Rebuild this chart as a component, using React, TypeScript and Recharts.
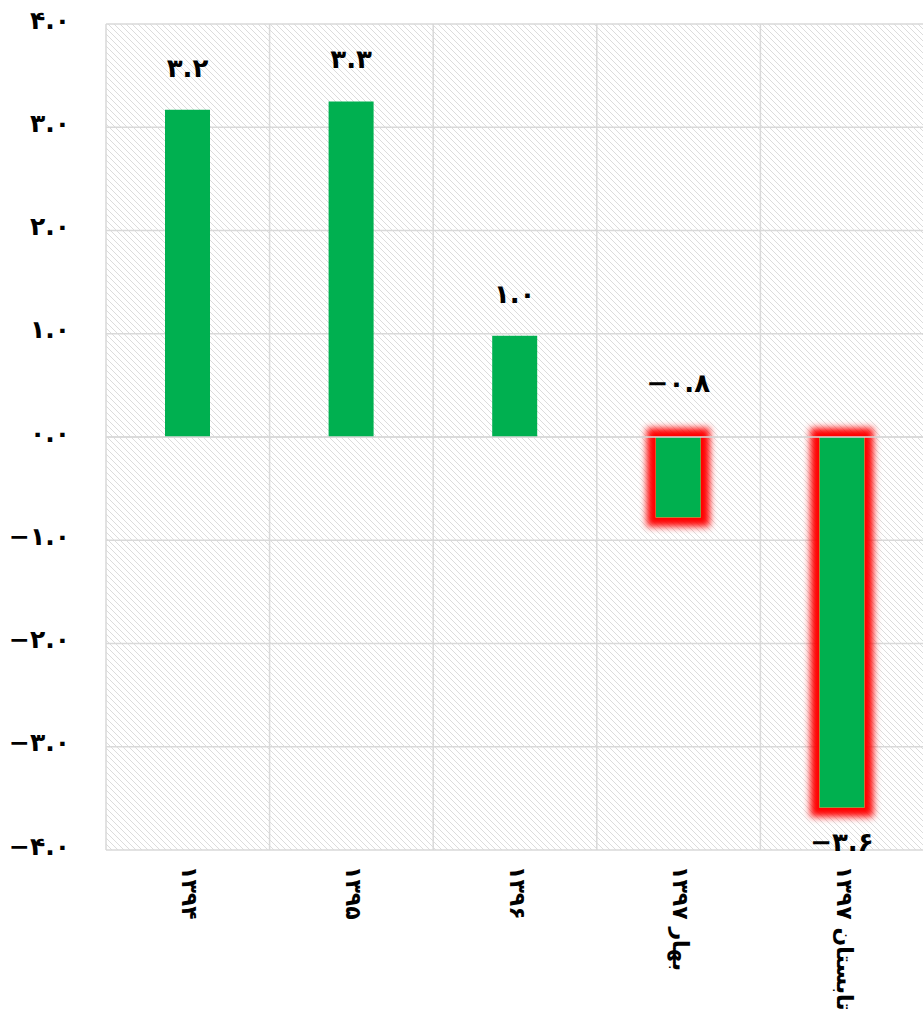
import React from 'react';
import {
  BarChart,
  Bar,
  XAxis,
  YAxis,
  CartesianGrid,
  LabelList,
  ReferenceLine,
  Cell,
} from 'recharts';

const categories = ['۱۳۹۴', '۱۳۹۵', '۱۳۹۶', 'بهار ۱۳۹۷', 'تابستان ۱۳۹۷'];
const values = [3.17, 3.25, 0.98, -0.78, -3.59];
const labels = ['۳.۲', '۳.۳', '۱.۰', '−۰.۸', '−۳.۶'];
const highlighted = [false, false, false, true, true];
const yTicks = [4, 3, 2, 1, 0, -1, -2, -3, -4];

const data = categories.map((name, i) => ({
  name,
  value: values[i],
  label: labels[i],
  glow: highlighted[i],
}));

const FONT = '"DejaVu Sans", sans-serif';
const GREEN = '#00b050';
const GRID = '#d9d9d9';

const faDigits = '۰۱۲۳۴۵۶۷۸۹';
function toFa(n: number) {
  return n
    .toFixed(1)
    .replace(/\d/g, (d) => faDigits[Number(d)])
    .replace('-', '−');
}

function YTick({ y, payload }: any) {
  return (
    <text
      x={70}
      y={y - 4}
      textAnchor="end"
      dominantBaseline="central"
      fontFamily={FONT}
      fontWeight="bold"
      fontSize={25}
      fill="#000"
    >
      {toFa(payload.value)}
    </text>
  );
}

function XTick({ x, y, payload }: any) {
  return (
    <g transform={`translate(${x + 2},${y + 8})`}>
      <text
        transform="rotate(90)"
        direction="rtl"
        textAnchor="end"
        dominantBaseline="central"
        fontFamily={FONT}
        fontWeight="bold"
        fontSize={22}
        fill="#000"
      >
        {payload.value}
      </text>
    </g>
  );
}

function BarLabel({ x, y, width, height, index }: any) {
  const top = Math.min(y, y + height);
  const bottom = Math.max(y, y + height);
  const v = values[index];
  // short negative bars keep their label above the axis, long ones below the bar end
  const ly = v >= -1 ? top - (v < 0 ? 54 : 42) : bottom + 34;
  return (
    <text
      x={x + width / 2}
      y={ly}
      textAnchor="middle"
      dominantBaseline="central"
      fontFamily={FONT}
      fontWeight="bold"
      fontSize={26}
      fill="#000"
    >
      {labels[index]}
    </text>
  );
}

export default function App() {
  return (
    <div
      style={{
        position: 'absolute',
        left: 0,
        top: 0,
        width: 923,
        height: 1013,
        overflow: 'hidden',
        background: '#fff',
      }}
    >
      <BarChart
        width={926}
        height={1013}
        data={data}
        margin={{ top: 24, right: 2, bottom: 0, left: 0 }}
        barSize={45}
      >
        <defs>
          <pattern id="hatch" width="6" height="6" patternUnits="userSpaceOnUse">
            <path
              d="M0,0 L6,6 M-1,5 L1,7 M5,-1 L7,1"
              stroke="#dcdcdc"
              strokeWidth={1}
            />
          </pattern>
          <filter id="redGlow" x="-60%" y="-20%" width="220%" height="140%">
            <feMorphology in="SourceAlpha" operator="dilate" radius="9" result="dil" />
            <feGaussianBlur in="dil" stdDeviation="3.5" result="blur" />
            <feFlood floodColor="#ff0000" />
            <feComposite in2="blur" operator="in" result="glow" />
            <feMerge>
              <feMergeNode in="glow" />
              <feMergeNode in="SourceGraphic" />
            </feMerge>
          </filter>
        </defs>
        <CartesianGrid
          fill="url(#hatch)"
          stroke={GRID}
          strokeWidth={1.5}
          verticalCoordinatesGenerator={({ offset }: any) =>
            categories.map((_, i) => offset.left + (i * offset.width) / categories.length)
              .concat([offset.left + offset.width])
          }
        />
        <XAxis
          dataKey="name"
          axisLine={false}
          tickLine={false}
          height={163}
          interval={0}
          tick={<XTick />}
        />
        <YAxis
          domain={[-4, 4]}
          ticks={yTicks}
          axisLine={false}
          tickLine={false}
          width={106}
          tick={<YTick />}
        />
        <Bar dataKey="value" fill={GREEN} isAnimationActive={false}>
          {data.map((d, i) => (
            <Cell key={i} fill={GREEN} filter={d.glow ? 'url(#redGlow)' : undefined} />
          ))}
          <LabelList dataKey="label" content={<BarLabel />} />
        </Bar>
        <ReferenceLine y={0} stroke={GRID} strokeWidth={1.5} />
      </BarChart>
    </div>
  );
}
